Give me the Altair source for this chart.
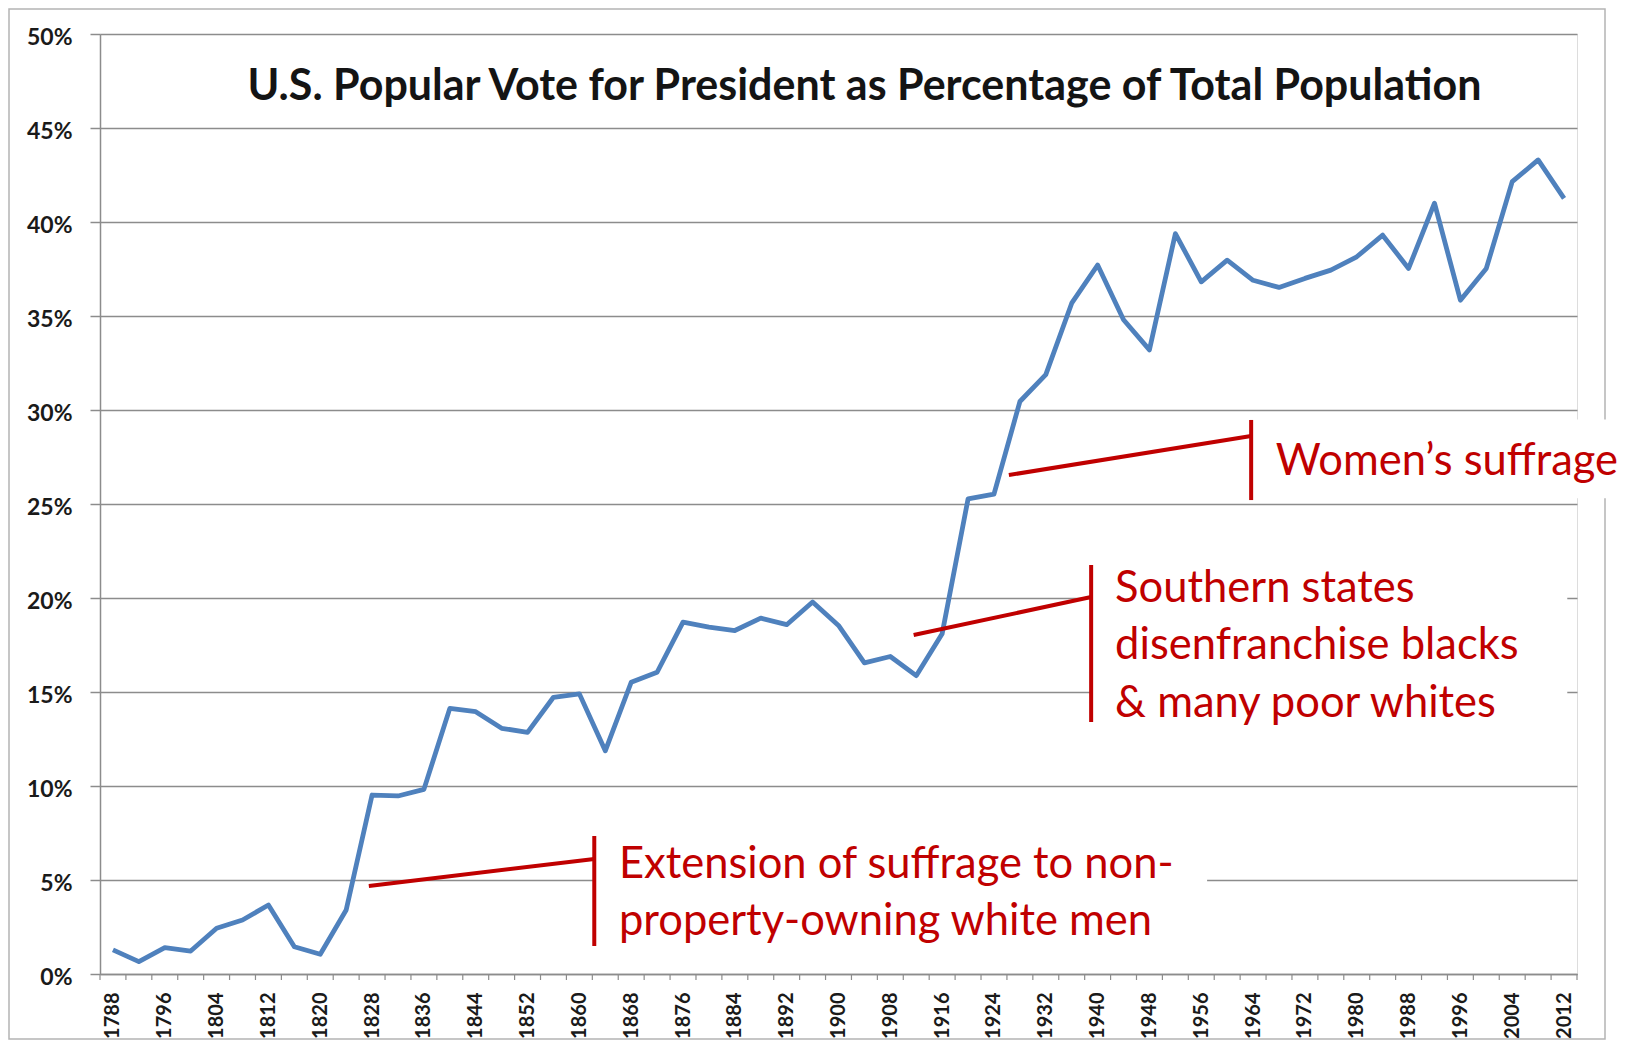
import altair as alt
import pandas as pd

# ---- data ----
years = [1788, 1792, 1796, 1800, 1804, 1808, 1812, 1816, 1820, 1824, 1828, 1832, 1836, 1840,
         1844, 1848, 1852, 1856, 1860, 1864, 1868, 1872, 1876, 1880, 1884, 1888, 1892, 1896,
         1900, 1904, 1908, 1912, 1916, 1920, 1924, 1928, 1932, 1936, 1940, 1944, 1948, 1952,
         1956, 1960, 1964, 1968, 1972, 1976, 1980, 1984, 1988, 1992, 1996, 2000, 2004, 2008, 2012]
vote_pct = [1.28, 0.66, 1.40, 1.22, 2.43, 2.87, 3.67, 1.45, 1.05, 3.40, 9.52, 9.47, 9.82, 14.13,
            13.95, 13.07, 12.85, 14.72, 14.90, 11.87, 15.52, 16.05, 18.72, 18.45, 18.27, 18.93,
            18.58, 19.79, 18.54, 16.55, 16.89, 15.87, 18.10, 25.27, 25.53, 30.45, 31.88, 35.68,
            37.71, 34.80, 33.20, 39.38, 36.82, 37.97, 36.90, 36.52, 37.00, 37.44, 38.15, 39.30,
            37.53, 41.00, 35.84, 37.53, 42.15, 43.30, 41.26]
label_years = [1788, 1796, 1804, 1812, 1820, 1828, 1836, 1844, 1852, 1860, 1868, 1876, 1884,
               1892, 1900, 1908, 1916, 1924, 1932, 1940, 1948, 1956, 1964, 1972, 1980, 1988,
               1996, 2004, 2012]
y_ticks = [0, 5, 10, 15, 20, 25, 30, 35, 40, 45, 50]

title_text = "U.S. Popular Vote for President as Percentage of Total Population"

# annotation texts (in data coordinates: year, percent)
note_lines = ["Extension of suffrage to non-", "property-owning white men",
              "Southern states", "disenfranchise blacks", "& many poor whites",
              "Women\u2019s suffrage"]
note_x = [1866.1, 1866.1, 1942.7, 1942.7, 1942.7, 1967.5]
note_y = [5.80, 2.77, 20.48, 17.45, 14.36, 27.24]

# leader + bracket segments
seg_x = [1827.5, 1862.3, 1911.6, 1939.0, 1926.3, 1963.7]
seg_y = [4.68, 7.34, 18.03, 21.76, 26.54, 29.47]
seg_x2 = [1862.3, 1862.3, 1939.0, 1939.0, 1963.7, 1963.7]
seg_y2 = [6.12, 1.49, 20.05, 13.40, 28.62, 25.21]

# white boxes behind annotation texts
box_x = [1862.3, 1939.0, 1963.7]
box_x2 = [1956.9, 2012.5, 2025.0]
box_y = [1.0, 12.7, 25.3]
box_y2 = [8.0, 22.3, 29.5]

df = pd.DataFrame({"year": years, "pct": vote_pct})
notes = pd.DataFrame({"text": note_lines, "x": note_x, "y": note_y})
segs = pd.DataFrame({"x": seg_x, "y": seg_y, "x2": seg_x2, "y2": seg_y2})
boxes = pd.DataFrame({"x": box_x, "x2": box_x2, "y": box_y, "y2": box_y2})
tick_years = [y - 2 for y in years] + [years[-1] + 2]
ticks = pd.DataFrame({"year": tick_years})
title_df = pd.DataFrame({"text": [title_text], "x": [1904.0], "y": [47.2]})

RED = "#C00000"
GRID = "#8c8c8c"
FONT = "Lato"

xscale = alt.Scale(domain=[1786, 2014], nice=False, zero=False)
yscale = alt.Scale(domain=[0, 50], nice=False)

x_axis = alt.Axis(values=label_years, labelAngle=270, labelFont=FONT, labelFontWeight="bold",
                  labelFontSize=20, labelColor="#1a1a1a", labelPadding=18, ticks=False,
                  domainColor=GRID, domainWidth=1.5, grid=False, title=None,
                  labelOverlap=False, format="d")
y_axis = alt.Axis(values=y_ticks, labelExpr="datum.value + '%'", grid=True, gridColor=GRID,
                  gridWidth=1.5, tickSize=10, tickColor=GRID, tickWidth=1.5, domainColor=GRID,
                  domainWidth=1.5, labelPadding=18, labelFont=FONT, labelFontWeight="bold",
                  labelFontSize=23, labelColor="#1a1a1a", labelOffset=3, title=None)

frame = alt.Chart(pd.DataFrame({"a": [0]})).mark_rect(
    fill=None, stroke="#b4b4b4", strokeWidth=1.5, clip=False
).encode(x=alt.value(-91), x2=alt.value(1505), y=alt.value(-25), y2=alt.value(1005))

line = alt.Chart(df).mark_line(color="#4F81BD", strokeWidth=4.8, strokeJoin="round").encode(
    x=alt.X("year:Q", scale=xscale, axis=x_axis),
    y=alt.Y("pct:Q", scale=yscale, axis=y_axis),
)

tick_marks = alt.Chart(ticks).mark_rule(color=GRID, strokeWidth=1.2).encode(
    x=alt.X("year:Q", scale=xscale), y=alt.value(940), y2=alt.value(946)
)

box_layer = alt.Chart(boxes).mark_rect(fill="white", clip=False).encode(
    x=alt.X("x:Q", scale=xscale), x2="x2:Q", y=alt.Y("y:Q", scale=yscale), y2="y2:Q"
)

seg_layer = alt.Chart(segs).mark_rule(color=RED, strokeWidth=4).encode(
    x=alt.X("x:Q", scale=xscale), x2="x2:Q", y=alt.Y("y:Q", scale=yscale), y2="y2:Q"
)

note_layer = alt.Chart(notes).mark_text(
    align="left", baseline="middle", font=FONT, fontSize=43.5, color=RED, clip=False
).encode(x=alt.X("x:Q", scale=xscale), y=alt.Y("y:Q", scale=yscale), text="text:N")

title_layer = alt.Chart(title_df).mark_text(
    align="center", baseline="middle", font=FONT, fontWeight="bold", fontSize=43, color="#141414"
).encode(x=alt.X("x:Q", scale=xscale), y=alt.Y("y:Q", scale=yscale), text="text:N")

chart = alt.layer(
    frame, box_layer, line, tick_marks, seg_layer, note_layer, title_layer
).properties(
    width=1477, height=940,
    autosize=alt.AutoSizeParams(type="none"),
    padding={"left": 92, "top": 26, "right": 41, "bottom": 66},
).configure_view(stroke=None).configure(background="white")

chart.save("out.html", embed_options={"renderer": "svg", "actions": False})
